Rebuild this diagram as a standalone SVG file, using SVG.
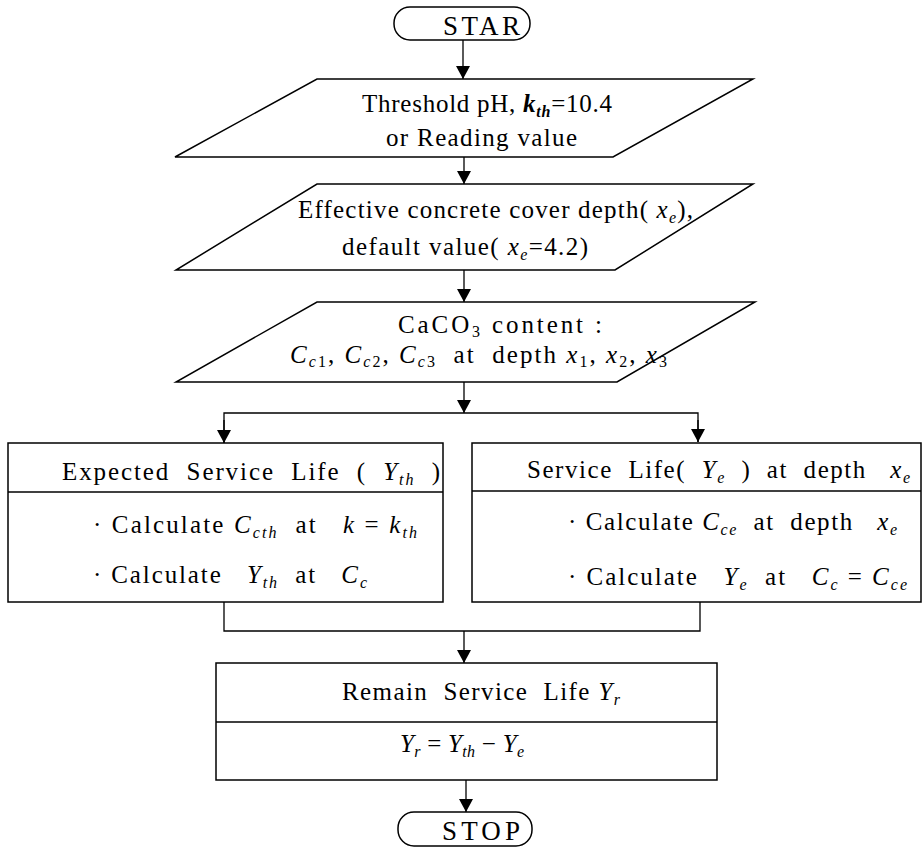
<svg xmlns="http://www.w3.org/2000/svg" width="924" height="850" viewBox="0 0 924 850">
<style>
.s{fill:#fff;stroke:#000;stroke-width:1.5}
.c{fill:none;stroke:#000;stroke-width:1.3}
.t{font-family:"Liberation Serif","Times New Roman",serif;font-size:25px;fill:#000;white-space:pre}
.i{font-style:italic}
.b{font-weight:bold}
.u{font-size:16px}
</style>
<defs>
<marker id="ah" markerUnits="userSpaceOnUse" markerWidth="14" markerHeight="14" refX="13" refY="7" orient="auto">
<path d="M0,0 L13,7 L0,14 z" fill="#000"/>
</marker>
</defs>
<rect width="924" height="850" fill="#fff"/>
<g id="connectors">
<path class="c" d="M463,40 V79" marker-end="url(#ah)"/>
<path class="c" d="M464,157 V184" marker-end="url(#ah)"/>
<path class="c" d="M464,270 V302" marker-end="url(#ah)"/>
<path class="c" d="M464,382 V413" marker-end="url(#ah)"/>
<path class="c" d="M224,443 V413 H698 V442"/>
<path class="c" d="M224,420 V443" marker-end="url(#ah)"/>
<path class="c" d="M698,420 V442" marker-end="url(#ah)"/>
<path class="c" d="M224,602 V631 H700 V602"/>
<path class="c" d="M464,631 V663" marker-end="url(#ah)"/>
<path class="c" d="M466,780 V812" marker-end="url(#ah)"/>
</g>
<g id="start">
<rect class="s" x="394" y="7" width="136" height="33" rx="16"/>
<text class="t" x="443" y="35" style="font-size:27px" textLength="77" lengthAdjust="spacing">STAR</text>
</g>
<g id="input-threshold">
<polygon class="s" points="317,79 753,79 613,157 175,157"/>
<text class="t" x="362" y="112" textLength="250" lengthAdjust="spacing">Threshold pH, <tspan class="i b">k</tspan><tspan class="i b u" dy="5">th</tspan><tspan dy="-5">=10.4</tspan></text>
<text class="t" x="386" y="146" textLength="191" lengthAdjust="spacing">or Reading value</text>
</g>
<g id="input-cover">
<polygon class="s" points="317,184 753,184 615,270 176,270"/>
<text class="t" x="298" y="218" textLength="395" lengthAdjust="spacing">Effective concrete cover depth( <tspan class="i">x</tspan><tspan class="i u" dy="5">e</tspan><tspan dy="-5">),</tspan></text>
<text class="t" x="342" y="255" textLength="246" lengthAdjust="spacing">default value( <tspan class="i">x</tspan><tspan class="i u" dy="5">e</tspan><tspan dy="-5">=4.2)</tspan></text>
</g>
<g id="input-caco3">
<polygon class="s" points="317,302 755,302 617,382 176,382"/>
<text class="t" x="398" y="333" textLength="204" lengthAdjust="spacing">CaCO<tspan class="u" dy="4">3</tspan><tspan dy="-4"> content :</tspan></text>
<text class="t" x="290" y="363" textLength="377" lengthAdjust="spacing"><tspan class="i">C</tspan><tspan class="u" dy="4"><tspan class="i">c</tspan>1</tspan><tspan dy="-4">, </tspan><tspan class="i">C</tspan><tspan class="u" dy="4"><tspan class="i">c</tspan>2</tspan><tspan dy="-4">, </tspan><tspan class="i">C</tspan><tspan class="u" dy="4"><tspan class="i">c</tspan>3</tspan><tspan dy="-4">  at  depth </tspan><tspan class="i">x</tspan><tspan class="u" dy="4">1</tspan><tspan dy="-4">, </tspan><tspan class="i">x</tspan><tspan class="u" dy="4">2</tspan><tspan dy="-4">, </tspan><tspan class="i">x</tspan><tspan class="u" dy="4">3</tspan></text>
</g>
<g id="expected-life">
<rect class="s" x="8" y="443" width="435" height="159"/>
<line class="c" x1="8" y1="492" x2="443" y2="492"/>
<text class="t" x="62" y="480" textLength="378" lengthAdjust="spacing">Expected  Service  Life  (  <tspan class="i">Y</tspan><tspan class="i u" dy="5">th</tspan><tspan dy="-5">  )</tspan></text>
<text class="t" x="93" y="533" textLength="324" lengthAdjust="spacing">· Calculate <tspan class="i">C</tspan><tspan class="i u" dy="5">cth</tspan><tspan dy="-5">  at   </tspan><tspan class="i">k</tspan> = <tspan class="i">k</tspan><tspan class="i u" dy="5">th</tspan></text>
<text class="t" x="93" y="583" textLength="274" lengthAdjust="spacing">· Calculate   <tspan class="i">Y</tspan><tspan class="i u" dy="5">th</tspan><tspan dy="-5">  at   </tspan><tspan class="i">C</tspan><tspan class="i u" dy="5">c</tspan></text>
</g>
<g id="service-life">
<rect class="s" x="472" y="443" width="449" height="159"/>
<line class="c" x1="472" y1="491" x2="921" y2="491"/>
<text class="t" x="527" y="478" textLength="383" lengthAdjust="spacing">Service  Life(  <tspan class="i">Y</tspan><tspan class="i u" dy="5">e</tspan><tspan dy="-5">  )  at  depth   </tspan><tspan class="i">x</tspan><tspan class="i u" dy="5">e</tspan></text>
<text class="t" x="568" y="530" textLength="329" lengthAdjust="spacing">· Calculate <tspan class="i">C</tspan><tspan class="i u" dy="5">ce</tspan><tspan dy="-5">  at  depth   </tspan><tspan class="i">x</tspan><tspan class="i u" dy="5">e</tspan></text>
<text class="t" x="568" y="585" textLength="339" lengthAdjust="spacing">· Calculate   <tspan class="i">Y</tspan><tspan class="i u" dy="5">e</tspan><tspan dy="-5">  at   </tspan><tspan class="i">C</tspan><tspan class="i u" dy="5">c</tspan><tspan dy="-5"> = </tspan><tspan class="i">C</tspan><tspan class="i u" dy="5">ce</tspan></text>
</g>
<g id="remain-life">
<rect class="s" x="216" y="663" width="501" height="117"/>
<line class="c" x1="216" y1="722" x2="717" y2="722"/>
<text class="t" x="342" y="700" textLength="278" lengthAdjust="spacing">Remain  Service  Life <tspan class="i">Y</tspan><tspan class="i u" dy="5">r</tspan></text>
<text class="t" x="400" y="752" textLength="124" lengthAdjust="spacing"><tspan class="i">Y</tspan><tspan class="i u" dy="5">r</tspan><tspan dy="-5"> = </tspan><tspan class="i">Y</tspan><tspan class="i u" dy="5">th</tspan><tspan dy="-5"> − </tspan><tspan class="i">Y</tspan><tspan class="i u" dy="5">e</tspan></text>
</g>
<g id="stop">
<rect class="s" x="398" y="812" width="134" height="34" rx="16"/>
<text class="t" x="442" y="840" style="font-size:27px" textLength="78" lengthAdjust="spacing">STOP</text>
</g>
</svg>
